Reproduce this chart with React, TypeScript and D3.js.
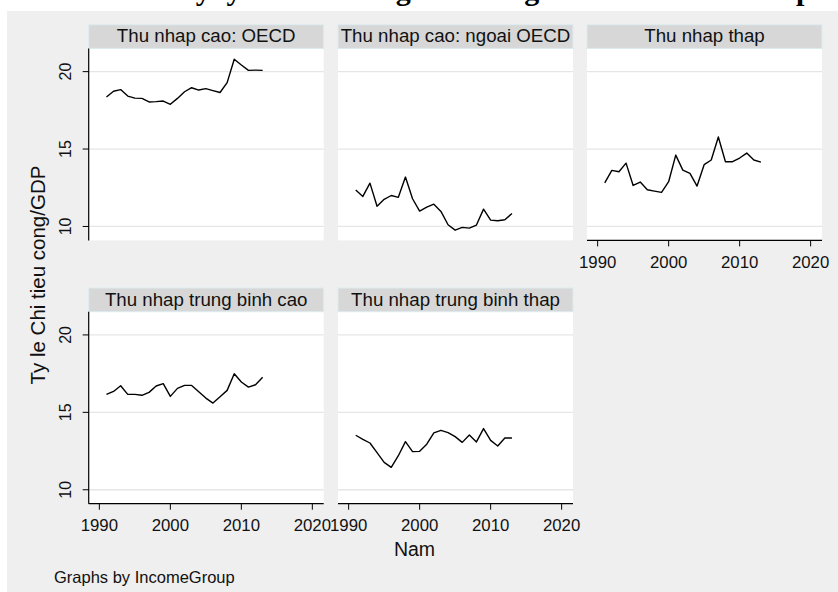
import React from "react";
import * as d3 from "d3";

const years = [1991,1992,1993,1994,1995,1996,1997,1998,1999,2000,2001,2002,2003,2004,2005,2006,2007,2008,2009,2010,2011,2012,2013];

const groupNames = [
  "Thu nhap cao: OECD",
  "Thu nhap cao: ngoai OECD",
  "Thu nhap thap",
  "Thu nhap trung binh cao",
  "Thu nhap trung binh thap",
];

const oecd = [18.36,18.73,18.84,18.42,18.29,18.27,18.04,18.06,18.10,17.89,18.27,18.70,18.96,18.81,18.90,18.77,18.65,19.29,20.80,20.43,20.08,20.10,20.08];
const nonOecd = [12.35,11.94,12.80,11.31,11.75,12.00,11.88,13.19,11.79,10.99,11.25,11.44,10.97,10.11,9.76,9.94,9.89,10.09,11.12,10.41,10.37,10.43,10.84];
const lowIncome = [12.82,13.62,13.53,14.09,12.65,12.87,12.37,12.28,12.20,12.89,14.61,13.64,13.43,12.61,13.99,14.29,15.78,14.18,14.18,14.42,14.74,14.29,14.16];
const upperMiddle = [16.16,16.35,16.72,16.16,16.16,16.10,16.29,16.70,16.85,16.03,16.55,16.74,16.74,16.33,15.92,15.60,16.01,16.42,17.49,16.96,16.63,16.78,17.26];
const lowerMiddle = [13.52,13.26,13.02,12.40,11.77,11.45,12.20,13.11,12.46,12.48,12.94,13.67,13.84,13.69,13.43,13.06,13.54,13.09,13.95,13.19,12.83,13.34,13.34];

const xTicks = [1990, 2000, 2010, 2020];
const yTicks = [10, 15, 20];

const title = "Ty ly chi tieu cong theo tung nhom nuoc thu nhap";
const xTitle = "Nam";
const yTitle = "Ty le Chi tieu cong/GDP";
const note = "Graphs by IncomeGroup";

const W = 838;
const H = 592;
const FONT = "'Liberation Sans', Arial, Helvetica, sans-serif";

const colLeft = [88.7, 338, 587];
const panelW = 235;
const rowTop = [24.7, 288];
const headerH = 23.7;
const plotH = 192;

const panels = [
  { name: groupNames[0], values: oecd, col: 0, row: 0, xAxis: false, yAxis: true },
  { name: groupNames[1], values: nonOecd, col: 1, row: 0, xAxis: false, yAxis: false },
  { name: groupNames[2], values: lowIncome, col: 2, row: 0, xAxis: true, yAxis: false },
  { name: groupNames[3], values: upperMiddle, col: 0, row: 1, xAxis: true, yAxis: true },
  { name: groupNames[4], values: lowerMiddle, col: 1, row: 1, xAxis: true, yAxis: false },
];

function Panel({ p }: { p: (typeof panels)[number] }) {
  const x0 = colLeft[p.col];
  const hTop = rowTop[p.row];
  const pTop = hTop + headerH;
  const pBot = pTop + plotH;
  const x = d3.scaleLinear().domain([1988.5, 2021.6]).range([x0, x0 + panelW]);
  const y = d3.scaleLinear().domain([9.1, 21.5]).range([pBot, pTop]);
  const line = d3
    .line<number>()
    .x((_, i) => x(years[i]))
    .y((v) => y(v));
  return (
    <g>
      <rect x={x0} y={pTop} width={panelW} height={plotH} fill="#ffffff" />
      {yTicks.map((t) => (
        <line key={t} x1={x0} x2={x0 + panelW} y1={y(t)} y2={y(t)} stroke="#e6e6e6" strokeWidth={1.3} />
      ))}
      <path d={line(p.values) || ""} fill="none" stroke="#000" strokeWidth={1.4} strokeLinejoin="round" />
      <rect x={x0} y={hTop} width={panelW} height={headerH} fill="#d7d7d7" stroke="#dcecef" strokeWidth={1} />
      <text x={x0 + panelW / 2} y={hTop + 17.7} textAnchor="middle" fontFamily={FONT} fontSize={18.7} fill="#111">
        {p.name}
      </text>
      {p.yAxis && (
        <g>
          <line x1={x0} x2={x0} y1={pTop} y2={pBot} stroke="#000" strokeWidth={1.2} />
          {yTicks.map((t) => (
            <g key={t}>
              <line x1={x0 - 6} x2={x0} y1={y(t)} y2={y(t)} stroke="#000" strokeWidth={1} />
              <text
                transform={`translate(${x0 - 18},${y(t)}) rotate(-90)`}
                textAnchor="middle"
                fontFamily={FONT}
                fontSize={16}
                fill="#111"
              >
                {t}
              </text>
            </g>
          ))}
        </g>
      )}
      {p.xAxis && (
        <g>
          <line x1={x0} x2={x0 + panelW} y1={pBot} y2={pBot} stroke="#000" strokeWidth={1.2} />
          {xTicks.map((t) => (
            <g key={t}>
              <line x1={x(t)} x2={x(t)} y1={pBot} y2={pBot + 6} stroke="#000" strokeWidth={1} />
              <text x={x(t)} y={pBot + 27.3} textAnchor="middle" fontFamily={FONT} fontSize={16.8} fill="#111">
                {t}
              </text>
            </g>
          ))}
        </g>
      )}
    </g>
  );
}

export default function App() {
  return (
    <svg
      width={W}
      height={H}
      style={{ position: "absolute", left: 0, top: 0, display: "block" }}
    >
      <rect x={0} y={0} width={W} height={H} fill="#ffffff" />
      <text x={178} y={0} fontFamily="'Liberation Serif', 'Times New Roman', serif" fontWeight="bold" fontSize={30} fill="#000">
        {title}
      </text>
      <rect x={7} y={11} width={W - 7} height={H - 11} fill="#efefef" />
      {panels.map((p) => (
        <Panel key={p.name} p={p} />
      ))}
      <text x={414.5} y={556} textAnchor="middle" fontFamily={FONT} fontSize={19.5} fill="#111">
        {xTitle}
      </text>
      <text
        transform={`translate(45,275) rotate(-90)`}
        textAnchor="middle"
        fontFamily={FONT}
        fontSize={20.5}
        fill="#111"
      >
        {yTitle}
      </text>
      <text x={54} y={583} fontFamily={FONT} fontSize={16.5} fill="#111">
        {note}
      </text>
    </svg>
  );
}
